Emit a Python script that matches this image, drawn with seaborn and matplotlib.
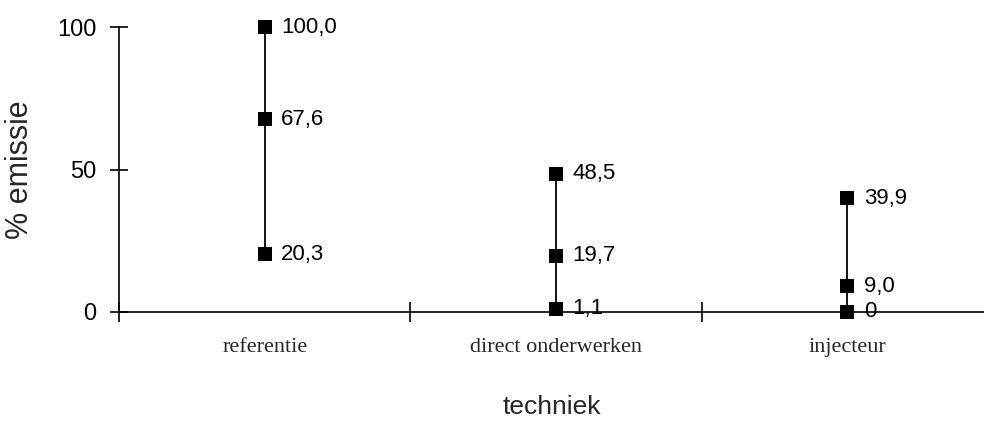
import numpy as np
import pandas as pd
import matplotlib
matplotlib.use("Agg")
import matplotlib.pyplot as plt
import seaborn as sns

# data
technieken = ["referentie", "direct onderwerken", "injecteur"]
hoog = [100.0, 48.5, 39.9]
midden = [67.6, 19.7, 9.0]
laag = [20.3, 1.1, 0.0]
labels_hoog = ["100,0", "48,5", "39,9"]
labels_midden = ["67,6", "19,7", "9,0"]
labels_laag = ["20,3", "1,1", "0"]

sns.set_theme(style="white")
plt.rcParams['font.family'] = ['Liberation Sans', 'DejaVu Sans']

rows = []
for i, t in enumerate(technieken):
    for v, lab in [(laag[i], labels_laag[i]), (midden[i], labels_midden[i]), (hoog[i], labels_hoog[i])]:
        rows.append({"pos": i, "techniek": t, "emissie": v, "label": lab})
df = pd.DataFrame(rows)

fig = plt.figure(figsize=(9.84, 4.38), dpi=100)
ax = fig.add_axes([0.121, 0.288, 0.879, 0.65])

# verticale lijnen laag-hoog per techniek
sns.lineplot(data=df, x="pos", y="emissie", units="techniek", estimator=None,
             sort=True, orient="y", color="black", linewidth=1.3, ax=ax, legend=False)
sns.scatterplot(data=df, x="pos", y="emissie", marker="s", s=95, color="black",
                edgecolor="black", linewidth=0, zorder=5, ax=ax, legend=False,
                clip_on=False)

for _, r in df.iterrows():
    ax.annotate(r["label"], (r["pos"], r["emissie"]), xytext=(12, 0),
                textcoords="offset points", ha="left", va="center", fontsize=16,
                color="black")

ax.set_xlim(-0.5, 2.47)
ax.set_ylim(0, 100)
for s in ["top", "right"]:
    ax.spines[s].set_visible(False)
ax.spines["left"].set_color("black")
ax.spines["bottom"].set_color("black")
ax.spines["left"].set_linewidth(1.2)
ax.spines["bottom"].set_linewidth(1.2)

ax.set_yticks([0, 50, 100])
ax.tick_params(axis="y", direction="inout", length=13, width=1.2, pad=10,
               labelsize=17, left=True, colors="black")

ax.set_xticks([-0.5, 0.5, 1.5])
ax.set_xticklabels([])
ax.set_xticks(range(len(technieken)), minor=True)
ax.set_xticklabels(technieken, minor=True, fontfamily="Liberation Serif", fontsize=16)
ax.tick_params(axis="x", which="major", direction="inout", length=14, width=1.2,
               bottom=True, colors="black")
ax.tick_params(axis="x", which="minor", length=0, pad=19, bottom=False)

ax.set_xlabel("techniek", fontsize=19, labelpad=27)
ax.set_ylabel("% emissie", fontsize=22, labelpad=16)

fig.savefig("out.png", dpi=100)
